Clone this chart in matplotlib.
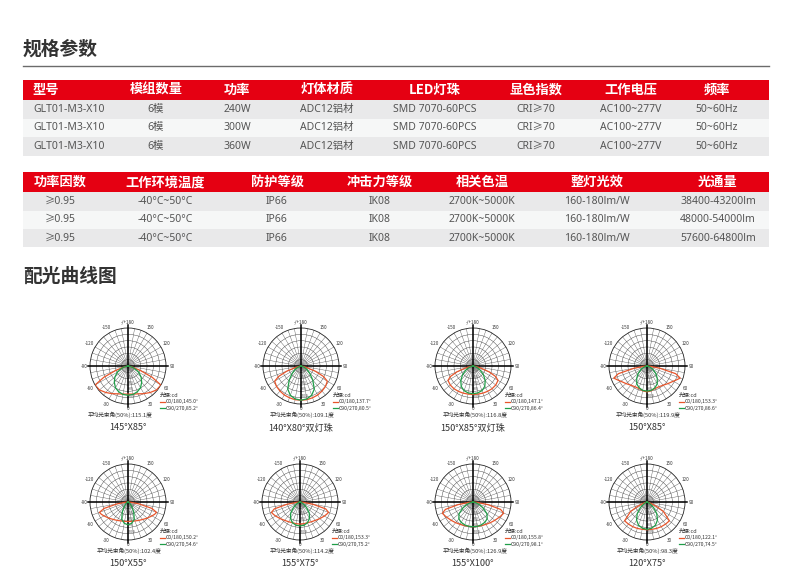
import numpy as np
import matplotlib
matplotlib.use('Agg')
import matplotlib.pyplot as plt
from matplotlib.patches import Rectangle

plt.rcParams['font.family'] = ['Noto Sans CJK SC', 'DejaVu Sans']
plt.rcParams['axes.unicode_minus'] = False
VALUE_FONT = ['Noto Sans', 'Noto Sans CJK SC', 'DejaVu Sans']

# ---------------- data ----------------
spec_headers = ["型号", "模组数量", "功率", "灯体材质", "LED灯珠", "显色指数", "工作电压", "频率"]
models = ["GLT01-M3-X10", "GLT01-M3-X10", "GLT01-M3-X10"]
modules = ["6模", "6模", "6模"]
powers = ["240W", "300W", "360W"]
materials = ["ADC12铝材", "ADC12铝材", "ADC12铝材"]
leds = ["SMD 7070-60PCS", "SMD 7070-60PCS", "SMD 7070-60PCS"]
cri = ["CRI≥70", "CRI≥70", "CRI≥70"]
voltages = ["AC100~277V", "AC100~277V", "AC100~277V"]
freqs = ["50~60Hz", "50~60Hz", "50~60Hz"]

perf_headers = ["功率因数", "工作环境温度", "防护等级", "冲击力等级", "相关色温", "整灯光效", "光通量"]
pf = ["≥0.95", "≥0.95", "≥0.95"]
temps = ["-40°C~50°C", "-40°C~50°C", "-40°C~50°C"]
ip = ["IP66", "IP66", "IP66"]
ik = ["IK08", "IK08", "IK08"]
cct = ["2700K~5000K", "2700K~5000K", "2700K~5000K"]
efficacy = ["160-180lm/W", "160-180lm/W", "160-180lm/W"]
flux = ["38400-43200lm", "48000-54000lm", "57600-64800lm"]

# photometric curves (relative intensity vs angle from nadir, symmetric)
angles = [0, 10, 20, 30, 40, 50, 60, 65, 70, 75, 80, 85, 90]
c0_curves = [
    [0.74, 0.75, 0.78, 0.84, 0.91, 0.98, 1.00, 0.70, 0.35, 0.12, 0.03, 0.01, 0],
    [0.90, 0.90, 0.89, 0.88, 0.86, 0.84, 0.80, 0.65, 0.40, 0.15, 0.04, 0.01, 0],
    [0.75, 0.75, 0.76, 0.77, 0.78, 0.78, 0.76, 0.66, 0.45, 0.22, 0.07, 0.01, 0],
    [0.68, 0.66, 0.63, 0.63, 0.66, 0.72, 0.80, 0.86, 0.93, 0.78, 0.35, 0.08, 0],
    [0.51, 0.52, 0.53, 0.56, 0.60, 0.66, 0.73, 0.77, 0.80, 0.65, 0.30, 0.07, 0],
    [0.58, 0.58, 0.58, 0.60, 0.63, 0.68, 0.74, 0.77, 0.80, 0.70, 0.35, 0.08, 0],
    [0.65, 0.65, 0.66, 0.68, 0.71, 0.75, 0.80, 0.83, 0.86, 0.75, 0.40, 0.10, 0],
    [0.73, 0.73, 0.74, 0.75, 0.76, 0.77, 0.50, 0.28, 0.12, 0.04, 0.01, 0.00, 0],
]
c90_curves = [
    [0.77, 0.76, 0.72, 0.66, 0.56, 0.45, 0.32, 0.24, 0.16, 0.09, 0.04, 0.01, 0],
    [0.90, 0.88, 0.82, 0.70, 0.48, 0.30, 0.18, 0.11, 0.06, 0.03, 0.01, 0.00, 0],
    [0.73, 0.72, 0.69, 0.62, 0.50, 0.36, 0.22, 0.15, 0.09, 0.04, 0.01, 0.00, 0],
    [0.66, 0.65, 0.61, 0.54, 0.42, 0.30, 0.18, 0.12, 0.07, 0.03, 0.01, 0.00, 0],
    [0.60, 0.57, 0.48, 0.30, 0.15, 0.07, 0.03, 0.02, 0.01, 0.00, 0.00, 0.00, 0],
    [0.63, 0.62, 0.58, 0.50, 0.38, 0.22, 0.10, 0.06, 0.03, 0.01, 0.00, 0.00, 0],
    [0.65, 0.65, 0.64, 0.62, 0.58, 0.48, 0.30, 0.22, 0.14, 0.07, 0.03, 0.01, 0],
    [0.72, 0.70, 0.65, 0.55, 0.40, 0.22, 0.08, 0.04, 0.02, 0.01, 0.00, 0.00, 0],
]
c0_beam = ["145.0", "137.7", "147.1", "153.3", "150.2", "153.3", "155.8", "122.1"]
c90_beam = ["85.2", "80.5", "86.4", "86.6", "54.6", "75.2", "98.1", "74.5"]
avg_beam = ["115.1", "109.1", "116.8", "119.9", "102.4", "114.2", "126.9", "98.3"]
captions = ["145°X85°", "140°X80°双灯珠", "150°X85°双灯珠", "150°X85°",
            "150°X55°", "155°X75°", "155°X100°", "120°X75°"]
ring_labels = ["200", "400", "600", "800", "1000"]
angle_ticks = [-150, -120, -90, -60, -30, 30, 60, 90, 120, 150]

# ---------------- layout ----------------
W, H = 790, 587
fig = plt.figure(figsize=(W / 100, H / 100), dpi=100)
fig.patch.set_facecolor('white')

RED = '#E50012'
DARK = '#333333'
GRAY_TXT = '#555555'
ROW_A = '#E9E9EA'
ROW_B = '#F6F7F7'


def rect(x0, y0, x1, y1, color):
    fig.add_artist(Rectangle((x0 / W, 1 - y1 / H), (x1 - x0) / W, (y1 - y0) / H,
                             transform=fig.transFigure, facecolor=color,
                             edgecolor='none', zorder=0))


def txt(x, y, s, **kw):
    fig.text(x / W, 1 - y / H, s, **kw)


# section title 1
txt(23, 49, "规格参数", fontsize=13.5, fontweight='bold', color=DARK, ha='left', va='center')
fig.add_artist(plt.Line2D([23 / W, 769 / W], [1 - 66 / H, 1 - 66 / H],
                          transform=fig.transFigure, color='#6b6b6b', lw=1.0))

# table 1
t1_cols = [33, 156, 237, 327, 435, 536, 631, 717]
t1_rows = list(zip(models, modules, powers, materials, leds, cri, voltages, freqs))
rect(23, 80, 769, 100, RED)
for i, h in enumerate(spec_headers):
    txt(t1_cols[i], 90, h, fontsize=9.5, fontweight='bold', color='white',
        ha='left' if i == 0 else 'center', va='center')
row_bounds1 = [(100, 118.5), (118.5, 137), (137, 155.5)]
for r, (y0, y1) in enumerate(row_bounds1):
    rect(23, y0, 769, y1, ROW_A if r % 2 == 0 else ROW_B)
    for i, v in enumerate(t1_rows[r]):
        txt(t1_cols[i], (y0 + y1) / 2, v, fontsize=7.5, color=GRAY_TXT, family=VALUE_FONT,
            ha='left' if i == 0 else 'center', va='center')

# table 2
t2_cols = [60, 165, 277, 380, 482, 597, 718]
t2_rows = list(zip(pf, temps, ip, ik, cct, efficacy, flux))
rect(23, 172, 769, 192, RED)
for i, h in enumerate(perf_headers):
    txt(t2_cols[i], 182, h, fontsize=9.5, fontweight='bold', color='white',
        ha='center', va='center')
row_bounds2 = [(192, 210.5), (210.5, 229), (229, 247.5)]
for r, (y0, y1) in enumerate(row_bounds2):
    rect(23, y0, 769, y1, ROW_A if r % 2 == 0 else ROW_B)
    for i, v in enumerate(t2_rows[r]):
        txt(t2_cols[i], (y0 + y1) / 2, v, fontsize=7.5, color=GRAY_TXT, family=VALUE_FONT,
            ha='center', va='center')

# section title 2
txt(23, 276, "配光曲线图", fontsize=13.5, fontweight='bold', color=DARK, ha='left', va='center')

# polar diagrams
centers = [(128, 366), (301, 366), (473, 366), (647, 366),
           (128, 502), (300, 502), (473, 502), (647, 502)]
avg_off = [-40, -31, -30, -31, -31, -30, -30, -30]
R = 38
ang = np.array(angles, dtype=float)
for k, (cx, cy) in enumerate(centers):
    ax = fig.add_axes([(cx - R) / W, 1 - (cy + R) / H, 2 * R / W, 2 * R / H],
                      projection='polar')
    ax.set_theta_zero_location('S')
    ax.set_theta_direction(1)
    ax.set_ylim(0, 1)
    ax.set_xticks(np.deg2rad(np.arange(0, 360, 10)))
    ax.set_xticklabels([])
    ax.set_yticks(np.linspace(0, 1, 7)[1:-1])
    ax.set_yticklabels(ring_labels)
    ax.set_rlabel_position(0)
    ax.tick_params(axis='y', labelsize=2.6, colors='#555', pad=0)
    ax.tick_params(axis='x', pad=0, length=0)
    ax.xaxis.grid(True, color='#4d4d4d', lw=0.28)
    ax.yaxis.grid(True, color='#4d4d4d', lw=0.35)
    ax.spines['polar'].set_color('#222')
    ax.spines['polar'].set_linewidth(0.6)
    ax.set_facecolor('none')

    # axes cross
    ax.plot([0, np.pi], [1.08, 1.08], color='black', lw=1.1, clip_on=False, zorder=3)
    ax.plot([np.pi / 2, -np.pi / 2], [1.06, 1.06], color='black', lw=1.1, clip_on=False, zorder=3)

    for a in angle_ticks:
        ax.text(np.deg2rad(a), 1.16, str(a), fontsize=3.3, color='#333',
                ha='center', va='center', clip_on=False)
    ax.text(0, 1.13, "0", fontsize=3.3, color='#333', ha='center', va='center', clip_on=False)
    ax.text(np.pi, 1.14, "-/+180", fontsize=3.3, color='#333', ha='center', va='center',
            clip_on=False)

    th = np.deg2rad(np.concatenate([-ang[::-1], ang[1:]]))
    r0 = np.array(c0_curves[k])
    r90 = np.array(c90_curves[k])
    l0, = ax.plot(th, np.concatenate([r0[::-1], r0[1:]]), color='#E8552B', lw=0.9, zorder=4)
    l90, = ax.plot(th, np.concatenate([r90[::-1], r90[1:]]), color='#1F9E48', lw=0.9, zorder=4)

    leg = ax.legend([l0, l90], [f"C0/180,{c0_beam[k]}°", f"C90/270,{c90_beam[k]}°"],
                    title="光强:cd", loc='upper left', bbox_to_anchor=(0.92, 0.145),
                    fontsize=3.7, title_fontsize=4.0, frameon=False, handlelength=0.9,
                    handletextpad=0.3, borderpad=0, borderaxespad=0, labelspacing=0.25,
                    alignment='left')
    for t in leg.get_texts():
        t.set_color('#333')
    leg.get_title().set_color('#333')

    ax.text((avg_off[k] + R) / (2 * R), 1 - (48.5 + R) / (2 * R),
            f"平均光束角(50%):{avg_beam[k]}度", transform=ax.transAxes,
            fontsize=4.1, color='#333', ha='left', va='center')
    ax.text(0.5, 1 - (62 + R) / (2 * R), captions[k], transform=ax.transAxes,
            fontsize=6.6, color='#333', ha='center', va='center')

fig.savefig('out.png', dpi=100, facecolor='white')
